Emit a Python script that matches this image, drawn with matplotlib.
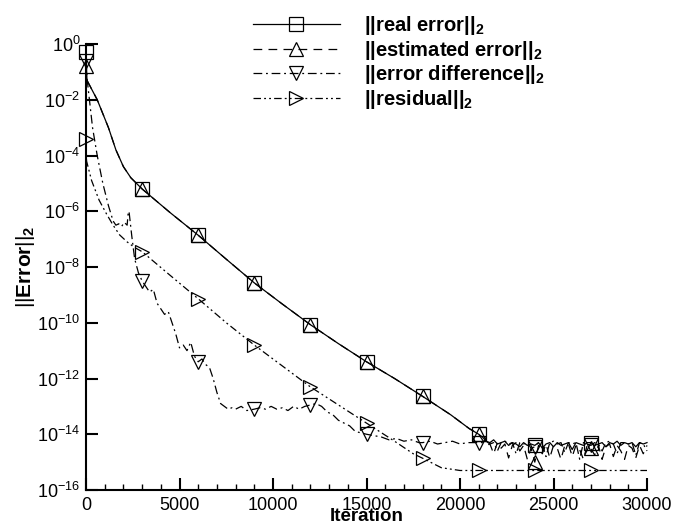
import numpy as np
import matplotlib
matplotlib.use("Agg")
import matplotlib.pyplot as plt
from matplotlib.ticker import FixedLocator, MultipleLocator, FuncFormatter, NullLocator

real_it = [0, 50, 600, 1200, 1600, 2000, 2400, 3000, 4500, 6000, 7500, 9000, 10500,
           12000, 13500, 15000, 16500, 18000, 19500, 20500, 21000]
real_dec = [0.3, 1.3, 2.0, 3.0, 3.8, 4.4, 4.8, 5.2, 6.05, 6.86, 7.72, 8.57, 9.33,
            10.07, 10.75, 11.4, 12.0, 12.64, 13.3, 13.8, 14.0]
est_dec = [0.8, 1.3, 2.0, 3.0, 3.8, 4.4, 4.8, 5.2, 6.05, 6.86, 7.72, 8.57, 9.33,
           10.07, 10.75, 11.4, 12.0, 12.64, 13.3, 13.8, 14.0]

# noisy floor after 21000 (every 200 iterations)
tail_it = [21200, 21400, 21600, 21800, 22000, 22200, 22400, 22600, 22800, 23000,
           23200, 23400, 23600, 23800, 24000, 24200, 24400, 24600, 24800, 25000,
           25200, 25400, 25600, 25800, 26000, 26200, 26400, 26600, 26800, 27000,
           27200, 27400, 27600, 27800, 28000, 28200, 28400, 28600, 28800, 29000,
           29200, 29400, 29600, 29800, 30000]
real_tail = [14.1, 14.25, 14.3, 14.2, 14.35, 14.3, 14.25, 14.4, 14.3, 14.35,
             14.45, 14.3, 14.4, 14.35, 14.4, 14.3, 14.5, 14.35, 14.3, 14.45,
             14.3, 14.4, 14.35, 14.3, 14.55, 14.3, 14.35, 14.4, 14.3, 14.3,
             14.4, 14.35, 14.3, 14.45, 14.3, 14.35, 14.25, 14.4, 14.3, 14.35,
             14.3, 14.45, 14.3, 14.35, 14.3]
est_tail = [14.2, 14.4, 14.35, 14.7, 14.3, 14.5, 14.35, 14.85, 14.4, 14.3,
            14.6, 14.4, 14.9, 14.5, 15.0, 14.4, 14.7, 14.35, 14.85, 14.4,
            14.5, 14.9, 14.4, 14.35, 14.8, 14.4, 14.55, 14.9, 14.4, 14.5,
            14.75, 14.4, 14.9, 14.45, 14.35, 14.8, 14.4, 14.6, 14.9, 14.4,
            14.5, 14.85, 14.4, 14.7, 14.4]
diff_tail = [14.3, 14.25, 14.35, 14.3, 14.6, 14.3, 14.25, 14.35, 14.3, 14.7,
             14.3, 14.35, 14.3, 14.5, 14.45, 14.3, 14.35, 14.8, 14.3, 14.25,
             14.35, 14.3, 14.65, 14.3, 14.35, 14.3, 14.9, 14.3, 14.35, 14.4,
             14.3, 14.35, 14.6, 14.3, 14.25, 14.35, 14.7, 14.3, 14.3, 14.35,
             14.3, 14.75, 14.3, 14.35, 14.6]

diff_it = [0, 50, 150, 350, 600, 900, 1200, 1450, 1600, 1750, 1900, 2050, 2200, 2250,
           2300, 2350, 2450, 2600, 2800, 3000, 3200, 3400, 3600, 3800, 4000, 4200,
           4400, 4600, 4800, 5000, 5200, 5400, 5600, 5800, 6000, 6200, 6400, 6600,
           6800, 7000, 7200, 7400, 7600, 7800, 8000, 8300, 8600, 9000, 9300, 9600,
           9900, 10200, 10500, 10800, 11100, 11400, 11700, 12000, 12300, 12600,
           12900, 13200, 13500, 13800, 14100, 14400, 14700, 15000, 15400, 15800,
           16200, 16600, 17000, 17400, 17800, 18000, 18400, 18800, 19200, 19600,
           20000, 20400, 20800, 21000]
diff_dec = [0.6, 1.2, 1.8, 3.0, 4.0, 5.0, 5.8, 6.35, 6.5, 6.45, 6.55, 6.4, 6.5, 6.1,
            6.0, 6.3, 6.9, 7.7, 8.2, 8.5, 8.7, 8.9, 8.8, 9.3, 9.5, 9.7,
            9.6, 10.0, 10.4, 10.9, 10.8, 11.0, 10.7, 11.2, 11.4, 11.3, 11.5, 11.6,
            12.0, 12.5, 12.9, 13.0, 13.1, 13.05, 13.1, 13.0, 13.15, 13.1, 13.05, 13.1,
            13.0, 13.1, 13.05, 13.15, 13.0, 13.1, 13.0, 12.95, 12.9, 13.0,
            13.2, 13.3, 13.5, 13.6, 13.7, 13.9, 13.95, 14.0, 14.05, 14.1,
            14.2, 14.15, 14.25, 14.2, 14.3, 14.3, 14.25, 14.35, 14.3, 14.25,
            14.35, 14.3, 14.3, 14.3]

res_it = [0, 30, 300, 700, 1100, 1450, 1800, 2200, 2600, 3000, 4500, 6000, 7500,
          9000, 10500, 12000, 13500, 15000, 16500, 17500, 18000, 19000, 20000,
          21000, 24000, 27000, 30000]
res_dec = [3.4, 4.2, 4.9, 5.6, 6.1, 6.5, 6.85, 7.1, 7.3, 7.45, 8.3, 9.14, 10.0,
           10.8, 11.55, 12.3, 12.95, 13.6, 14.25, 14.7, 14.86, 15.2, 15.3,
           15.3, 15.3, 15.3, 15.3]

labels = [r"||real error||$_\mathbf{2}$", r"||estimated error||$_\mathbf{2}$",
          r"||error difference||$_\mathbf{2}$", r"||residual||$_\mathbf{2}$"]
y_ticks = [0, -2, -4, -6, -8, -10, -12, -14, -16]

plt.rcParams["font.family"] = ["Liberation Sans", "DejaVu Sans"]
plt.rcParams["mathtext.fontset"] = "custom"
plt.rcParams["mathtext.rm"] = "Liberation Sans"
plt.rcParams["mathtext.it"] = "Liberation Sans:italic"
plt.rcParams["mathtext.bf"] = "Liberation Sans:bold"


def marks(it):
    # markers every 3000 iterations up to 27000
    return [i for i, v in enumerate(it) if v % 3000 == 0 and v <= 27000]


def main():
    fig = plt.figure(figsize=(6.76, 5.29), dpi=100)
    ax = fig.add_axes([86 / 676, 1 - 490 / 529, (647 - 86) / 676, (490 - 44) / 529])

    series = [
        (real_it + tail_it, real_dec + real_tail, "-", "s"),
        (real_it + tail_it, est_dec + est_tail, (0, (7, 5)), "^"),
        (diff_it + tail_it, diff_dec + diff_tail, (0, (7, 3, 1.5, 3)), "v"),
        (res_it, res_dec, (0, (6, 2.5, 1.5, 2.5, 1.5, 2.5)), ">"),
    ]
    for (it, dec, ls, mk), lab in zip(series, labels):
        vals = 10.0 ** -np.array(dec)
        ax.plot(it, vals, color="black", linestyle=ls, linewidth=0.9,
                marker=mk, markersize=10, markerfacecolor="none",
                markeredgecolor="black", markeredgewidth=0.9,
                markevery=marks(it), clip_on=False, label=lab)

    ax.set_yscale("log")
    ax.set_xlim(0, 30000)
    ax.set_ylim(1e-16, 1e0)
    ax.yaxis.set_major_locator(FixedLocator([10.0 ** e for e in y_ticks]))
    ax.yaxis.set_minor_locator(NullLocator())
    ax.yaxis.set_major_formatter(FuncFormatter(
        lambda v, p: r"$10^{%d}$" % int(round(np.log10(v)))))
    ax.xaxis.set_major_locator(MultipleLocator(5000))
    ax.xaxis.set_minor_locator(MultipleLocator(1000))

    for s in ["top", "right"]:
        ax.spines[s].set_visible(False)
    for s in ["left", "bottom"]:
        ax.spines[s].set_linewidth(1.5)
    ax.tick_params(which="major", direction="in", length=8.6, width=1.5,
                   labelsize=13)
    ax.tick_params(which="minor", direction="in", length=4.3, width=1.0)
    ax.tick_params(axis="x", which="major", pad=5)
    ax.tick_params(axis="y", which="major", pad=4)

    ax.set_xlabel("Iteration", fontsize=13.5, fontweight="bold")
    ax.xaxis.set_label_coords(0.5, -0.041)
    ax.set_ylabel(r"$||\mathbf{Error}||_\mathbf{2}$", fontsize=15)
    ax.yaxis.set_label_coords(-0.087, 0.5)

    ax.legend(loc="upper left", bbox_to_anchor=(253 / 676, 1 - 14 / 529),
              bbox_transform=fig.transFigure, frameon=False, borderpad=0,
              borderaxespad=0, handlelength=4.3, handletextpad=1.2,
              labelspacing=0.08, numpoints=1,
              prop={"weight": "bold", "size": 14.5})

    fig.savefig("out.png", dpi=100)


if __name__ == "__main__":
    main()
